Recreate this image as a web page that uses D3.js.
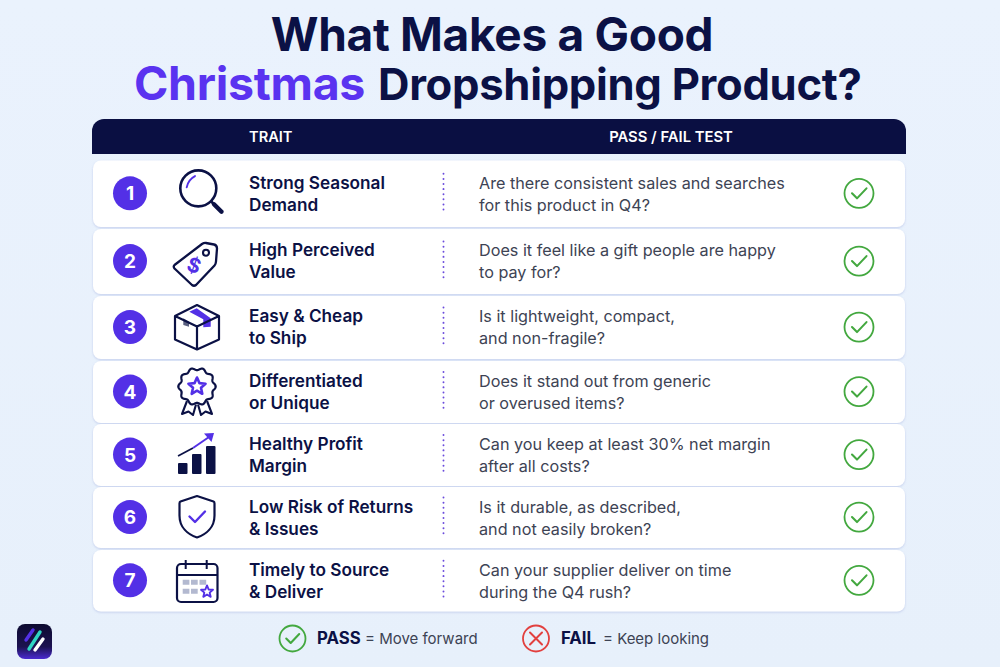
<!DOCTYPE html>
<html><head><meta charset="utf-8">
<script src="https://cdn.jsdelivr.net/npm/d3@7"></script>
<style>html,body{margin:0;padding:0;background:#e9f1fc}svg{display:block}text{font-family:Inter,"Noto Sans",sans-serif}</style>
</head><body><div id="c"></div>
<script>
const titleLine1 = "What Makes a Good";
const titleAccent = "Christmas";
const titleRest = "Dropshipping Product?";
const headers = ["TRAIT", "PASS / FAIL TEST"];
const numbers = ["1","2","3","4","5","6","7"];
const traitLine1 = ["Strong Seasonal","High Perceived","Easy & Cheap","Differentiated","Healthy Profit","Low Risk of Returns","Timely to Source"];
const traitLine2 = ["Demand","Value","to Ship","or Unique","Margin","& Issues","& Deliver"];
const testLine1 = ["Are there consistent sales and searches","Does it feel like a gift people are happy","Is it lightweight, compact,","Does it stand out from generic","Can you keep at least 30% net margin","Is it durable, as described,","Can your supplier deliver on time"];
const testLine2 = ["for this product in Q4?","to pay for?","and non-fragile?","or overused items?","after all costs?","and not easily broken?","during the Q4 rush?"];
const iconKeys = ["search","tag","box","badge","growth","shield","calendar"];

const W=1000,H=667, navy="#0b1145", purple="#5330e6", green="#43a83f", red="#e2403f", grey="#3d4354";
const svg=d3.select("#c").append("svg").attr("width",W).attr("height",H).attr("viewBox",`0 0 ${W} ${H}`);
const defs=svg.append("defs");
const bg=defs.append("linearGradient").attr("id","bg").attr("x1",0).attr("y1",0).attr("x2",0).attr("y2",1);
bg.append("stop").attr("offset",0).attr("stop-color","#eaf2fd");
bg.append("stop").attr("offset",1).attr("stop-color","#e7f0fb");
const lg=defs.append("linearGradient").attr("id","logo").attr("x1",0).attr("y1",0).attr("x2",0).attr("y2",1);
lg.append("stop").attr("offset",0).attr("stop-color","#0d0b30");
lg.append("stop").attr("offset",.65).attr("stop-color","#1c1250");
lg.append("stop").attr("offset",1).attr("stop-color","#4a2ad0");
const sh=defs.append("filter").attr("id","sh").attr("x","-3%").attr("y","-10%").attr("width","106%").attr("height","125%");
sh.append("feDropShadow").attr("dx",0).attr("dy",1).attr("stdDeviation",1).attr("flood-color","#7f8fd0").attr("flood-opacity",.35);
svg.append("rect").attr("width",W).attr("height",H).attr("fill","url(#bg)");

// title
svg.append("text").attr("x",492).attr("y",51).attr("text-anchor","middle").attr("font-size",46).attr("font-weight",700).attr("fill",navy).attr("letter-spacing",-0.3).text(titleLine1);
svg.append("text").attr("x",134).attr("y",100).attr("font-size",46.5).attr("font-weight",700).attr("fill","#5a33f0").attr("letter-spacing",-0.3).text(titleAccent);
svg.append("text").attr("x",378).attr("y",100).attr("font-size",43.6).attr("font-weight",700).attr("fill",navy).attr("letter-spacing",-0.3).text(titleRest);

// header band
svg.append("path").attr("fill","#0a0f42").attr("d","M92 154V131a12 12 0 0 1 12-12H894a12 12 0 0 1 12 12V154Z");
svg.append("text").attr("x",249).attr("y",142).attr("font-size",14.6).attr("font-weight",600).attr("fill","#fff").text(headers[0]);
svg.append("text").attr("x",671).attr("y",142).attr("text-anchor","middle").attr("font-size",14.8).attr("font-weight",600).attr("fill","#fff").text(headers[1]);

// row scales
const edgeTop=d3.scaleLinear().domain(d3.range(7)).range([160.5,229,296,361,424,487,550]);
const edgeBot=d3.scaleLinear().domain(d3.range(7)).range([227,294,359,423,486,548,611.5]);
const textShift=d3.scaleOrdinal().domain(numbers).range([0,-1,-1,-1,-1,0,0]);
function starPath(cx,cy,R,r){
  return d3.line()(d3.range(10).map(i=>{const a=-Math.PI/2+i*Math.PI/5,q=i%2?r:R;return [q*Math.cos(a)+cx,q*Math.sin(a)+cy];}))+"Z";
}
const icons={
 search(g){
  g.append("circle").attr("cx",1.3).attr("cy",-4.4).attr("r",18).attr("class","n").attr("stroke-width",2.6);
  g.append("path").attr("d","M13.5 8L24.5 19").attr("class","n").attr("stroke-width",2.6);
  g.append("path").attr("d","M17 11.5L24.5 19").attr("class","n").attr("stroke-width",4.4).attr("stroke-linecap","round");
  g.append("path").attr("d","M-10.3 -5.4Q-9 -13 -2 -16.7").attr("class","p").attr("stroke-width",1.9).attr("stroke-linecap","round");
 },
 tag(g){
  g.append("path").attr("class","n").attr("stroke-width",2.3).attr("stroke-linejoin","round").attr("d","M-22.5 4.5L5 -16.5Q7 -17.8 9 -17.5L17 -16Q20 -15.4 20 -12L19 1Q18.8 3.5 17.5 5L-1 24.5Q-3 26 -5 24.5L-22.5 8Q-24 6 -22.5 4.5Z");
  g.append("circle").attr("cx",9).attr("cy",-7.8).attr("r",3).attr("class","n").attr("stroke-width",2.1);
  g.append("text").attr("x",-3).attr("y",12).attr("text-anchor","middle").attr("font-size",20).attr("font-weight",700).attr("fill",purple).attr("transform","rotate(20 -3 5)").text("$");
 },
 box(g){
  g.append("path").attr("fill",purple).attr("d","M-7.7 -14.8L-0.3 -18.2L13.7 -8.2V0.2L6.3 0.8V-7.2Z");
  g.append("path").attr("fill","#5a6080").attr("d","M-13.7 -8.2L-8 -4.8V0.2L-13.7 -1.5Z");
  g.append("path").attr("class","n").attr("stroke-width",2.2).attr("stroke-linejoin","round").attr("d","M0 -21.5L22 -10.5V13L0 23L-22 13V-10.5ZM-22 -10.5L0 0L22 -10.5M0 0V23");
 },
 badge(g){
  const pts=d3.range(0,360,1).map(a=>{const r=a*Math.PI/180,R=17.5+1.2*Math.cos(r*10);return [R*Math.cos(r),R*Math.sin(r)-4.5];});
  g.append("path").attr("class","n").attr("stroke-width",2.2).attr("d",d3.line()(pts)+"Z");
  g.append("path").attr("class","p").attr("stroke-width",2.6).attr("stroke-linejoin","round").attr("d",starPath(0,-4.5,9,4.2));
  g.append("path").attr("class","n").attr("stroke-width",2.1).attr("stroke-linejoin","round").attr("d","M-10 10L-15 23L-8.5 20.5L-4 24L-1 13.5M10 10L15 23L8.5 20.5L4 24L1 13.5");
 },
 growth(g){
  [[-19,9,9.5,11],[-5,0,9.5,20],[9,-8,9.5,28]].forEach(r=>g.append("rect").attr("x",r[0]).attr("y",r[1]).attr("width",r[2]).attr("height",r[3]).attr("rx",1).attr("fill",navy));
  g.append("path").attr("class","n").attr("stroke-width",1.7).attr("d","M-19 2L-4 -6");
  g.append("path").attr("class","p").attr("stroke-width",2).attr("d","M-4 -6L12 -17");
  g.append("path").attr("fill",purple).attr("d","M7 -20.5L17 -21L14.5 -12Z");
 },
 shield(g){
  g.append("path").attr("class","n").attr("stroke-width",2.2).attr("stroke-linejoin","round").attr("d","M0 -20.5L16.5 -15Q17.5 -14.6 17.5 -13V-1C17.5 11 9 18 0 21C-9 18 -17.5 11 -17.5 -1V-13Q-17.5 -14.6 -16.5 -15Z");
  g.append("path").attr("class","p").attr("stroke-width",2.4).attr("stroke-linecap","round").attr("stroke-linejoin","round").attr("d","M-7.5 0L-2 5.5L8 -5");
 },
 calendar(g){
  g.append("rect").attr("x",-20).attr("y",-15.75).attr("width",40.5).attr("height",38).attr("rx",4).attr("class","n").attr("stroke-width",2.2);
  g.append("path").attr("class","n").attr("stroke-width",2).attr("d","M-20 -4.75H20.5M-11.3 -19.75V-10.75M9.7 -19.75V-10.75");
  [[-14.3,0],[-6,0],[2.5,0],[-14.3,9],[-6,9]].forEach(c=>g.append("rect").attr("x",c[0]).attr("y",c[1]).attr("width",6.7).attr("height",5).attr("fill","#b3b9d0"));
  g.append("path").attr("class","p").attr("stroke-width",1.9).attr("stroke-linejoin","round").attr("d",starPath(10,12,6.3,2.8));
 }
};
function check(g,cx,cy,r,sw){
  g.append("circle").attr("cx",cx).attr("cy",cy).attr("r",r).attr("fill","none").attr("stroke",green).attr("stroke-width",sw);
  const k=r/14.5;
  g.append("path").attr("fill","none").attr("stroke",green).attr("stroke-width",sw*1.15).attr("stroke-linecap","round").attr("stroke-linejoin","round")
   .attr("d",`M${cx-7*k} ${cy}L${cx-2*k} ${cy+5*k}L${cx+7.5*k} ${cy-5*k}`);
}
const rows=svg.selectAll("g.row").data(numbers).join("g").attr("class","row");
rows.each(function(n,i){
  const g=d3.select(this), top=edgeTop(i), bot=edgeBot(i), cy=(top+bot)/2, ts=textShift(n);
  g.append("rect").attr("x",93).attr("y",top).attr("width",812).attr("height",bot-top).attr("rx",8).attr("fill","#fff").attr("filter","url(#sh)");
  g.append("circle").attr("cx",130).attr("cy",cy-0.4).attr("r",17).attr("fill",purple);
  g.append("text").attr("x",130).attr("y",cy+6.6).attr("text-anchor","middle").attr("font-size",19).attr("font-weight",700).attr("fill","#fff").text(n);
  const ic=g.append("g").attr("transform",`translate(${197},${cy-1})`);
  icons[iconKeys[i]](ic);
  ic.selectAll(".n").attr("fill","none").attr("stroke",navy);
  ic.selectAll(".p").attr("fill","none").attr("stroke",purple);
  g.append("text").attr("x",249).attr("y",cy-4.5+ts).attr("font-size",17.2).attr("font-weight",600).attr("fill",navy).text(traitLine1[i]);
  g.append("text").attr("x",249).attr("y",cy+17.5+ts).attr("font-size",17.2).attr("font-weight",600).attr("fill",navy).text(traitLine2[i]);
  g.append("line").attr("x1",443.5).attr("x2",443.5).attr("y1",cy-20).attr("y2",cy+20).attr("stroke","#6a4bdc").attr("stroke-width",1.9).attr("stroke-dasharray","0.1 5").attr("stroke-linecap","round");
  g.append("text").attr("x",479).attr("y",cy-4.5+ts).attr("font-size",16.2).attr("font-weight",400).attr("fill",grey).text(testLine1[i]);
  g.append("text").attr("x",479).attr("y",cy+17.5+ts).attr("font-size",16.2).attr("font-weight",400).attr("fill",grey).text(testLine2[i]);
  check(g,859,cy-0.4,14.5,1.8);
});

// logo
svg.append("rect").attr("x",17).attr("y",624).attr("width",35).attr("height",35).attr("rx",8).attr("fill","url(#logo)");
svg.append("path").attr("d","M26 640L33 630").attr("stroke",purple).attr("stroke-width",3.4).attr("stroke-linecap","round");
svg.append("path").attr("d","M29 649L40 632").attr("stroke","#2fd6c4").attr("stroke-width",3.4).attr("stroke-linecap","round");
svg.append("path").attr("d","M35 650L43 639").attr("stroke","#fff").attr("stroke-width",3.4).attr("stroke-linecap","round");

// legend
const leg=svg.append("g");
check(leg,292.5,638.5,13,1.8);
leg.append("text").attr("x",317).attr("y",644).attr("font-size",16.8).attr("font-weight",700).attr("fill",navy).text("PASS");
leg.append("text").attr("x",365).attr("y",644).attr("font-size",15).attr("fill",grey).text("= Move forward");
leg.append("circle").attr("cx",536).attr("cy",638.5).attr("r",13).attr("fill","none").attr("stroke",red).attr("stroke-width",1.8);
leg.append("path").attr("d","M530 632.5L542 644.5M542 632.5L530 644.5").attr("stroke",red).attr("stroke-width",2).attr("stroke-linecap","round");
leg.append("text").attr("x",561).attr("y",644).attr("font-size",16.8).attr("font-weight",700).attr("fill",navy).text("FAIL");
leg.append("text").attr("x",603).attr("y",644).attr("font-size",15).attr("fill",grey).text("= Keep looking");
</script></body></html>
